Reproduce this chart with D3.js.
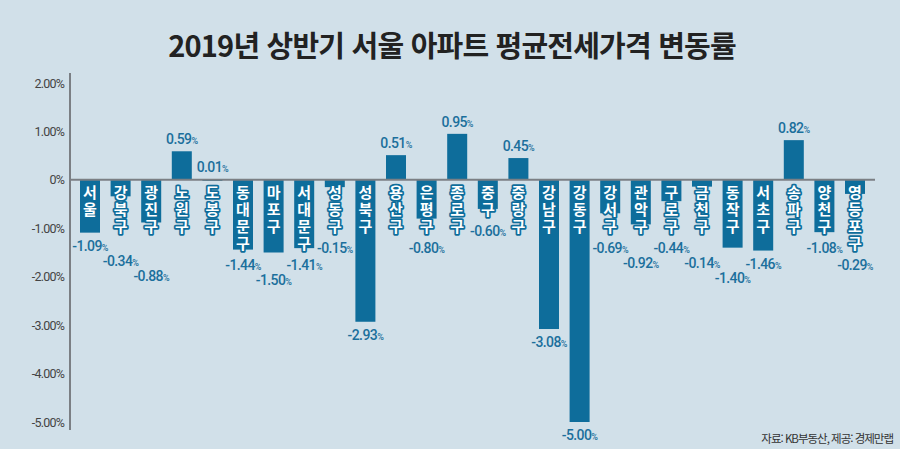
<!DOCTYPE html>
<html lang="ko">
<head>
<meta charset="utf-8">
<script src="https://cdn.jsdelivr.net/npm/d3@7"></script>
<style>
  html, body { margin: 0; padding: 0; background: #d1e0e9; }
  svg { display: block; }
</style>
</head>
<body>
<div id="chart"></div>
<script>
// 2019년 상반기 서울 아파트 평균전세가격 변동률 (%)
const districts = ['서울', '강북구', '광진구', '노원구', '도봉구', '동대문구', '마포구', '서대문구', '성동구',
  '성북구', '용산구', '은평구', '종로구', '중구', '중랑구', '강남구', '강동구', '강서구', '관악구', '구로구',
  '금천구', '동작구', '서초구', '송파구', '양천구', '영등포구'];
const changes = [-1.09, -0.34, -0.88, 0.59, 0.01, -1.44, -1.50, -1.41, -0.15,
  -2.93, 0.51, -0.80, 0.95, -0.60, 0.45, -3.08, -5.00, -0.69, -0.92, -0.44,
  -0.14, -1.40, -1.46, 0.82, -1.08, -0.29];
const yTicks = [2, 1, 0, -1, -2, -3, -4, -5];
const tickLabels = ['2.00%', '1.00%', '0%', '-1.00%', '-2.00%', '-3.00%', '-4.00%', '-5.00%'];

const W = 900, H = 449;
const barColor = '#0e6d9b';
const labelColor = '#1b6f9c';
const kr = '"Noto Sans CJK KR", "Noto Sans", sans-serif';

const data = districts.map((name, i) => ({ name, value: changes[i] }));

const svg = d3.select('#chart').append('svg')
  .attr('width', W).attr('height', H);

svg.append('rect').attr('width', W).attr('height', H).attr('fill', '#d1e0e9');

// Title
svg.append('text')
  .attr('x', 452).attr('y', 57)
  .attr('text-anchor', 'middle')
  .style('font-family', kr).style('font-weight', 700)
  .style('font-size', '29px').style('letter-spacing', '-0.8px')
  .attr('fill', '#222')
  .text('2019년 상반기 서울 아파트 평균전세가격 변동률');

const x = d3.scalePoint().domain(districts).range([90, 855]);
const y = d3.scaleLinear().domain([-5, 2]).range([422, 83]);
const barW = 20;
const zeroY = y(0);

// Y axis
const axis = svg.append('g').attr('transform', 'translate(70,0)')
  .call(d3.axisLeft(y).tickValues(yTicks).tickSize(0).tickPadding(6)
    .tickFormat((d, i) => tickLabels[i]));
axis.select('.domain').remove();
axis.selectAll('text')
  .style('font-family', 'Roboto, sans-serif').style('font-size', '12.5px')
  .style('letter-spacing', '-0.8px')
  .attr('fill', '#444');
svg.append('line')
  .attr('x1', 70).attr('x2', 70).attr('y1', 73).attr('y2', 430)
  .attr('stroke', '#7b7f84').attr('stroke-width', 2);

// Bars
svg.selectAll('.bar').data(data).enter().append('rect')
  .attr('class', 'bar')
  .attr('x', d => x(d.name) - barW / 2)
  .attr('y', d => Math.min(y(d.value), zeroY))
  .attr('width', barW)
  .attr('height', d => Math.max(Math.abs(y(d.value) - zeroY), 1.5))
  .attr('fill', barColor);

// Zero line
svg.append('line')
  .attr('x1', 70).attr('x2', 875).attr('y1', zeroY).attr('y2', zeroY)
  .attr('stroke', '#7b7f84').attr('stroke-width', 2);

// District names, written top to bottom below the zero line
const nameSize = 15, charStep = 17;
svg.selectAll('.name').data(data).enter().append('text')
  .attr('class', 'name')
  .attr('x', d => x(d.name))
  .attr('y', zeroY + 5)
  .style('writing-mode', 'vertical-rl')
  .style('text-orientation', 'upright')
  .style('letter-spacing', (charStep - nameSize) + 'px')
  .style('font-family', kr).style('font-weight', 700).style('font-size', nameSize + 'px')
  .attr('fill', '#fff')
  .attr('stroke', barColor).attr('stroke-width', 3.5)
  .attr('stroke-linejoin', 'round')
  .style('paint-order', 'stroke')
  .text(d => d.name);

// Value labels, pushed down when they would overlap the previous one
let prevBase = null;
data.forEach(d => {
  if (d.value >= 0) {
    d.labelY = y(d.value) - 7;
    prevBase = null;
  } else {
    const nameBottom = zeroY + 4 + charStep * Array.from(d.name).length;
    let base = Math.max(y(d.value), nameBottom) + 18;
    if (prevBase !== null && Math.abs(base - prevBase) < 14) base = prevBase + 15;
    d.labelY = base;
    prevBase = base;
  }
});

const vals = svg.selectAll('.val').data(data).enter().append('text')
  .attr('class', 'val')
  .attr('x', d => x(d.name))
  .attr('y', d => d.labelY)
  .attr('text-anchor', 'middle')
  .style('font-family', 'Roboto, sans-serif').style('font-weight', 500)
  .style('letter-spacing', '-0.6px')
  .attr('fill', labelColor);
vals.append('tspan').style('font-size', '14px').text(d => d.value.toFixed(2));
vals.append('tspan').style('font-size', '9px').text('%');

// Source
svg.append('text')
  .attr('x', 893).attr('y', 443)
  .attr('text-anchor', 'end')
  .style('font-family', kr).style('font-size', '11.5px').style('letter-spacing', '-1px')
  .attr('fill', '#333')
  .text('자료: KB부동산, 제공: 경제만랩');
</script>
</body>
</html>
